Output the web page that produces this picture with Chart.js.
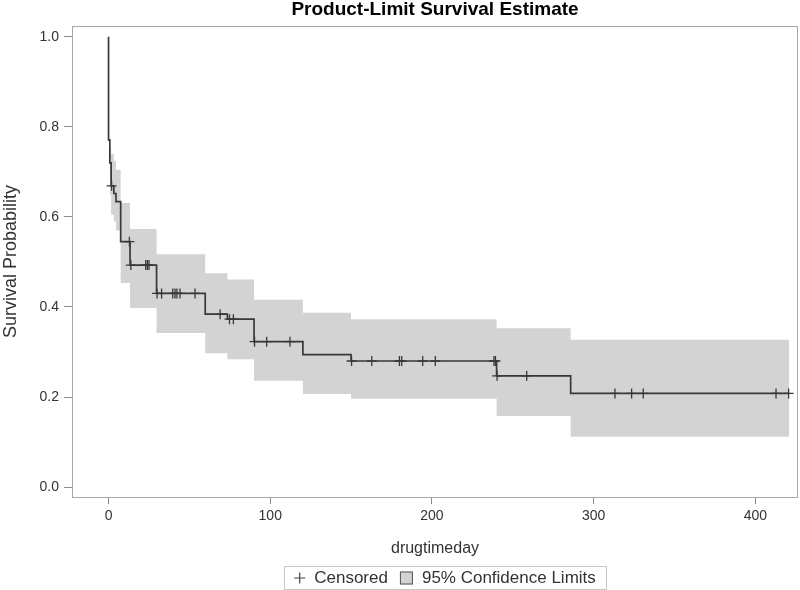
<!DOCTYPE html>
<html>
<head>
<meta charset="utf-8">
<script src="https://cdn.jsdelivr.net/npm/chart.js@4.4.1/dist/chart.umd.min.js"></script>
<style>
  html, body { margin: 0; background: #fff; }
</style>
</head>
<body>
<canvas id="km" width="800" height="590"></canvas>
<script>
// Kaplan-Meier steps: survival after each event time
const stepTimes = [0, 0.8, 1.6, 3.3, 4.6, 7.5, 13.3, 29.7, 59.8, 73.5, 90, 120.2, 150, 240, 285.8];
const survival  = [0.771, 0.72, 0.669, 0.652, 0.634, 0.545, 0.493, 0.43, 0.384, 0.373, 0.323, 0.294, 0.28, 0.247, 0.208];
// 95% confidence limits, starting at stepTimes[1]
const upperCL = [0.752, 0.74, 0.725, 0.705, 0.631, 0.573, 0.517, 0.475, 0.461, 0.416, 0.387, 0.373, 0.353, 0.327];
const lowerCL = [0.65, 0.605, 0.59, 0.57, 0.453, 0.398, 0.342, 0.297, 0.284, 0.236, 0.207, 0.196, 0.158, 0.112];
const censorTimes = [1.9, 12.9, 13.8, 23, 24, 25, 30, 32.8, 39.7, 41.1, 42.3, 44.2, 53.5, 69, 74.8, 77.2,
  90.3, 97.8, 112.2, 150.3, 162.8, 179.9, 181.3, 194.3, 202.1, 238.4, 239.3, 240.3, 258.6,
  313.2, 323.5, 330.7, 412.8, 420.6];
const lastTime = 421;
const xTicks = [0, 100, 200, 300, 400];
const yTicks = [0, 0.2, 0.4, 0.6, 0.8, 1.0];

const FONT = '"Liberation Sans", Arial, sans-serif';
const TEXT = '#333';

function survAt(t) {
  let s = 1;
  stepTimes.forEach((st, i) => { if (st <= t) s = survival[i]; });
  return s;
}

const kmLine = [{ x: 0, y: 1 }].concat(stepTimes.map((t, i) => ({ x: t, y: survival[i] })));
kmLine.push({ x: lastTime, y: survival[survival.length - 1] });

const bandTimes = stepTimes.slice(1);
const upperPts = bandTimes.map((t, i) => ({ x: t, y: upperCL[i] }));
upperPts.push({ x: lastTime, y: upperCL[upperCL.length - 1] });
const lowerPts = bandTimes.map((t, i) => ({ x: t, y: lowerCL[i] }));
lowerPts.push({ x: lastTime, y: lowerCL[lowerCL.length - 1] });

const censorPts = censorTimes.map(t => ({ x: t, y: survAt(t) }));

const framePlugin = {
  id: 'frame',
  beforeDatasetsDraw(chart) {
    const { ctx, chartArea: a } = chart;
    ctx.save();
    ctx.strokeStyle = '#a8a8a8';
    ctx.lineWidth = 1;
    ctx.strokeRect(a.left + 0.5, a.top + 0.5, a.right - a.left - 1, a.bottom - a.top);
    ctx.restore();
  },
  afterDraw(chart) {
    const { ctx, chartArea: a } = chart;
    ctx.save();
    // title
    ctx.fillStyle = '#000';
    ctx.font = 'bold 19px ' + FONT;
    ctx.textAlign = 'center';
    ctx.textBaseline = 'middle';
    ctx.fillText('Product-Limit Survival Estimate', (a.left + a.right) / 2, 10);

    // legend
    ctx.font = '17px ' + FONT;
    const t1 = 'Censored', t2 = '95% Confidence Limits';
    const w1 = ctx.measureText(t1).width, w2 = ctx.measureText(t2).width;
    const total = 11 + 9 + w1 + 12 + 13 + 9 + w2;
    const cx = 445, cy = 578;
    const x0 = cx - total / 2;
    ctx.strokeStyle = '#c8c8c8';
    ctx.strokeRect(Math.round(x0 - 10) + 0.5, 566.5, Math.round(total + 20), 23);
    ctx.strokeStyle = '#444';
    ctx.lineWidth = 1.2;
    ctx.beginPath();
    ctx.moveTo(x0, cy); ctx.lineTo(x0 + 11, cy);
    ctx.moveTo(x0 + 5.5, cy - 5.5); ctx.lineTo(x0 + 5.5, cy + 5.5);
    ctx.stroke();
    ctx.fillStyle = TEXT;
    ctx.textAlign = 'left';
    ctx.fillText(t1, x0 + 20, cy);
    const sx = x0 + 20 + w1 + 12;
    ctx.fillStyle = '#d3d3d3';
    ctx.fillRect(sx, cy - 6.5, 13, 13);
    ctx.strokeStyle = '#555';
    ctx.lineWidth = 1;
    ctx.strokeRect(sx + 0.5, cy - 6, 12, 12);
    ctx.fillStyle = TEXT;
    ctx.fillText(t2, sx + 22, cy);
    ctx.restore();
  }
};

new Chart(document.getElementById('km'), {
  type: 'line',
  data: {
    datasets: [
      {
        label: 'Survival',
        data: kmLine,
        stepped: 'before',
        borderColor: '#383838',
        borderWidth: 1.7,
        pointRadius: 0,
        fill: false
      },
      {
        label: 'Censored',
        data: censorPts,
        showLine: false,
        pointStyle: 'cross',
        pointRadius: 5,
        pointBorderColor: '#383838',
        pointBorderWidth: 1.3
      },
      {
        label: 'Upper',
        data: upperPts,
        stepped: 'before',
        borderWidth: 0,
        borderColor: 'rgba(0,0,0,0)',
        pointRadius: 0,
        fill: false
      },
      {
        label: '95% Confidence Limits',
        data: lowerPts,
        stepped: 'before',
        borderWidth: 0,
        borderColor: 'rgba(0,0,0,0)',
        backgroundColor: '#d3d3d3',
        pointRadius: 0,
        fill: '-1'
      }
    ]
  },
  options: {
    responsive: false,
    animation: false,
    layout: { autoPadding: false, padding: { top: 26, right: 2, bottom: 30, left: 0 } },
    plugins: {
      legend: { display: false },
      title: { display: false },
      tooltip: { enabled: false }
    },
    scales: {
      x: {
        type: 'linear',
        min: -22.6,
        max: 426.4,
        afterFit(s) { s.height = 63; s.paddingLeft = 0; s.paddingRight = 0; },
        afterBuildTicks(s) { s.ticks = xTicks.map(v => ({ value: v })); },
        grid: { drawOnChartArea: false, drawTicks: true, tickLength: 7, color: '#8c8c8c' },
        border: { display: false },
        ticks: { color: TEXT, font: { family: FONT, size: 14 }, padding: 4, maxRotation: 0 },
        title: { display: true, text: 'drugtimeday', color: TEXT, font: { family: FONT, size: 16 }, padding: { top: 0, bottom: 2 } }
      },
      y: {
        type: 'linear',
        min: -0.022,
        max: 1.024,
        afterFit(s) { s.width = 72; s.paddingTop = 0; s.paddingBottom = 0; },
        afterBuildTicks(s) { s.ticks = yTicks.map(v => ({ value: v })); },
        grid: { drawOnChartArea: false, drawTicks: true, tickLength: 8, color: '#8c8c8c' },
        border: { display: false },
        ticks: { color: TEXT, font: { family: FONT, size: 14 }, padding: 5, callback: v => v.toFixed(1) },
        title: { display: true, text: 'Survival Probability', color: TEXT, font: { family: FONT, size: 18 }, padding: { top: 0, bottom: 0 } }
      }
    }
  },
  plugins: [framePlugin]
});
</script>
</body>
</html>
